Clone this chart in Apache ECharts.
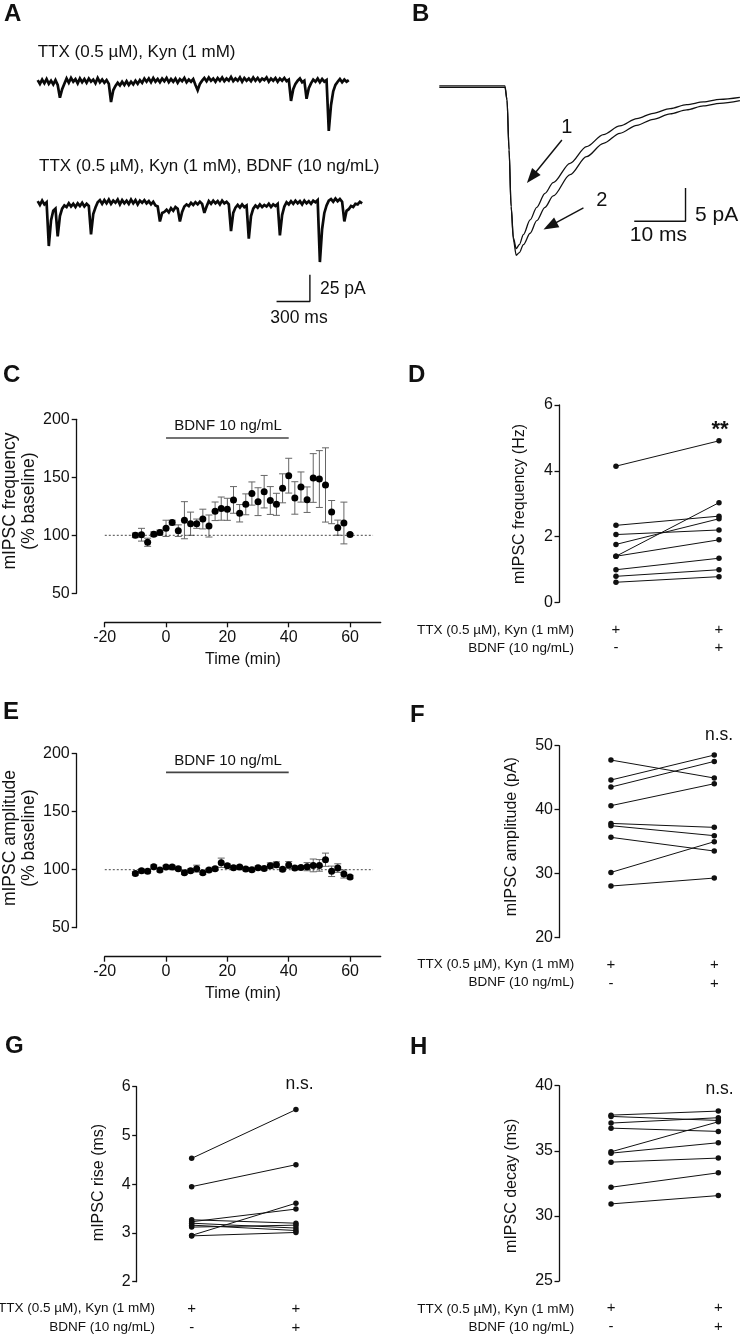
<!DOCTYPE html>
<html><head><meta charset="utf-8">
<script src="https://cdn.jsdelivr.net/npm/echarts@6/dist/echarts.min.js"></script>
<style>html,body{margin:0;padding:0;background:#fff}#c{width:742px;height:1335px}</style>
</head><body><div id="c"></div>
<script>
// ---------------- DATA ----------------
// Panel A: raw traces (pA), one value every SAMPLE_MS ms
const SAMPLE_MS = 20;
const traceCtrl = [
 1.5,-2,2,-1.5,2.5,-2,1,-2.5,1.5,-3,
 -15,-7,-2,3,-1,3.5,0,2.5,-1.5,3,
 -0.5,2.5,-1,3,0,2,-1.5,3.5,-0.5,2,
 -1,1.5,-2,-19,-8,-4,-1,-3.5,0,-3,
 0.5,-3,0,-2.5,1,-2,1.5,-1,3,0,
 3,-0.5,3.5,0,2.5,-0.5,3,0.5,3.5,-0.5,
 2.5,0,3,-1,2.5,0.5,3.5,-0.5,2,0,
 2.5,-3,-8,-2,1,3.5,0.5,4,1,3,
 0,3.5,1,4,0.5,3,1,4.5,0.5,3,
 1,4,0,3.5,1,3,0.5,4,1,3.5,
 0.5,3,1.5,4,0,3,1,3.5,0,3,
 1,3.5,0.5,2,-18,-7,-2,1,3,-0.5,
 1,-16,-6,-1.5,2,0,3,-0.5,2.5,0,
 1.5,-46,-22,-9,-3,0,2.5,-0.5,2,0,1.5
];
const traceBDNF = [
 2,-1.5,2.5,-1,1,-40,-16,-7,-5,-31,
 -12,-5,-2,-3.5,0,-3,-0.5,-3.5,0,-2.5,
 0.5,-3,-0.5,-2.5,-29,-10,-4,1,3,-0.5,
 3,0,3.5,-0.5,2.5,0.5,3.5,-1,3,0,
 2.5,-0.5,3.5,0,3,-1,2.5,0.5,3,0,
 2,-1,1.5,-2,-3,-17,-9,-8,-6,-8.5,
 -4.5,-7,-3.5,-5,-17,-8,-3,-1,-2.5,0.5,
 -1.5,1,-1,1.5,-0.5,-9,-3,2,-0.5,2.5,
 0,2,-1,2.5,0,1.5,-1,-26,-9,-4,
 -1.5,-4,-1,-3.5,-2,-33,-12,-5,-2,-4,
 -1,-3.5,-1.5,-3,-0.5,-3.5,-1,-2.5,-0.5,-30,
 -11,-3,1,-1,2,-0.5,2.5,0,2,-1,
 2.5,0,2,-0.5,2.5,1,3,-55,-24,-9,
 -2,2.5,4,1.5,4.5,2,4,1.5,-17,-7,
 -5.5,-2.5,-3.5,-0.5,-1,1.5,0
];
const scaleBarA = [[2150,-92],[2450,-92],[2450,-67]];   // 300 ms, 25 pA

// Panel B: averaged mIPSCs (ms, pA)
const avgTime = [0,12.8,13.2,13.6,14.0,14.45,15.0,15.6,16.4,17.7,19.0,20.6,22.2,25.5,28.7,32.0,35.2,38.5,41.7,45.0,48.2,51.5,54.7,58.6];
const avgCtrl = [0.1,0.1,-2,-9.5,-18,-22.7,-24.3,-23.7,-22.2,-20.0,-18.1,-16.0,-14.4,-11.5,-9.0,-7.2,-5.9,-4.8,-4.0,-3.3,-2.7,-2.3,-1.9,-1.6];
const avgBDNF = [-0.1,-0.1,-2,-9.5,-18,-23,-25.3,-24.9,-23.7,-22,-20.1,-18.1,-16.4,-13.2,-10.5,-8.5,-7.0,-5.8,-4.9,-4.1,-3.5,-2.9,-2.5,-2.1];
const scaleBarB = [[38,-20.2],[48,-20.2],[48,-15.2]];    // 10 ms, 5 pA
const arrowsB = [[[23.9,-8.0],[18.0,-13.6]],[[28.1,-18.2],[21.6,-20.9]]];

// Panels C & E: time course (min, % baseline, SEM)
const timeMin = [-10,-8,-6,-4,-2,0,2,4,6,8,10,12,14,16,18,20,22,24,26,28,30,32,34,36,38,40,42,44,46,48,50,52,54,56,58,60];
const freqMean = [100,100.5,94,101,102.5,106,111,104,113,110,110,114,108,120.7,123,122.4,130.5,119,126.7,136,129,137.6,130,126.7,140.5,151.4,132.2,141.6,130.7,149.4,148.5,143.4,120,106.6,110.6,100.6];
const freqSem  = [2,5.5,3.5,2,2,7,2,5,16,10,4,8.5,9.5,8,10,9.5,11.5,7.5,9,10,12,14,12,9.5,12.5,15,14,13,11,21,24.5,32,10,6.5,18,1];
const ampMean  = [96.8,99.1,98.6,102.6,99.7,102.3,102.3,100.9,97.4,99.1,100.9,97.4,99.7,100.9,106,103.4,101.7,102.3,100.6,100,101.7,101.1,103.4,104.3,100.3,104,101.4,102,102.6,103.7,103.7,108.6,98.6,101.4,96.3,93.7];
const ampSem   = [1.5,1.5,1.5,1.5,1.5,1.5,1.5,1.5,1.5,1.5,3,1.5,1.5,1.5,4,1.5,1.5,1.5,1.5,1.5,1.5,1.5,2.5,2.5,1.5,3,1.5,1.5,3.5,5.5,5,5.7,4.5,3.7,3.5,1.5];
const timeTicks = [-20,0,20,40,60];
const bdnfBar = [[0,183.9],[40,183.9]];
const baselineLine = [[-29.1,100],[67.5,100]];

// Panels D, F, G, H: paired cells (before, after BDNF)
const freqBefore  = [4.14,2.34,2.06,1.76,1.40,1.40,0.99,0.79,0.61];
const freqAfter   = [4.91,2.62,2.20,2.54,3.03,1.90,1.34,0.99,0.78];
const ampBefore   = [47.76,44.64,43.54,40.63,37.86,37.5,35.68,30.2,28.07];
const ampAfter    = [44.95,48.54,47.55,44.06,37.24,35.94,33.54,35.0,29.32];
const riseBefore  = [4.53,3.95,3.27,3.23,3.20,3.16,3.12,2.95,2.94];
const riseAfter   = [5.53,4.40,3.20,3.49,3.10,3.05,3.16,3.61,3.01];
const decayBefore = [37.74,37.64,37.13,36.74,34.92,34.82,34.13,32.2,30.92];
const decayAfter  = [38.05,37.33,37.54,36.49,37.23,35.62,34.44,33.31,31.56];
const condTTX  = ['+','+'];
const condBDNF = ['-','+'];
const rowTTX  = 'TTX (0.5 \u00b5M), Kyn (1 mM)';
const rowBDNF = 'BDNF (10 ng/mL)';

// ---------------- CHART ----------------
const FONT = '"Liberation Sans", Arial, Helvetica, sans-serif';
const INK = '#111';
const chart = echarts.init(document.getElementById('c'), null, {renderer:'canvas'});

const grids = [
 {left:37.7, top:65.7, width:333.3, height:80.1},     // 0 A1
 {left:37.7, top:187.3, width:333.3, height:122.8},   // 1 A2
 {left:439.3, top:53.3, width:300.6, height:233.3},   // 2 B
 {left:104.7, top:419.3, width:276, height:174},      // 3 C
 {left:559, top:405, width:180.6, height:197.3},      // 4 D
 {left:104.7, top:753.7, width:276, height:174},      // 5 E
 {left:559, top:745.7, width:178, height:192},        // 6 F
 {left:136.7, top:1086.7, width:180.1, height:195},   // 7 G
 {left:559, top:1085.7, width:180.8, height:195.3}    // 8 H
].map(g => Object.assign({containLabel:false, outerBoundsMode:'none'}, g));

const axLine = {show:true, onZero:false, lineStyle:{color:INK, width:1.3}};
function hid(grid, min, max){ return {type:'value', gridIndex:grid, min, max, show:false}; }
function timeX(grid){ return {type:'value', gridIndex:grid, min:-20, max:70, offset:29,
  axisLine:axLine, axisTick:{show:true, length:5, customValues:timeTicks, lineStyle:{color:INK,width:1.3}},
  axisLabel:{customValues:timeTicks, color:INK, fontSize:16, fontFamily:FONT, margin:7}, splitLine:{show:false}}; }
function pctY(grid){ return {type:'value', gridIndex:grid, min:50, max:200, interval:50, offset:28,
  axisLine:axLine, axisTick:{show:true, length:5, lineStyle:{color:INK,width:1.3}},
  axisLabel:{color:INK, fontSize:16, fontFamily:FONT, margin:7}, splitLine:{show:false}}; }
function pairX(grid, min, max){ return {type:'value', gridIndex:grid, min, max,
  axisLine:{show:false}, axisTick:{show:false}, splitLine:{show:false},
  axisLabel:{customValues:[0,1], formatter:v => condTTX[v] + '\n' + condBDNF[v], color:INK,
    fontSize:15, lineHeight:18.5, margin:18, fontFamily:FONT}}; }
function pairY(grid, min, max, interval){ return {type:'value', gridIndex:grid, min, max, interval,
  axisLine:axLine, axisTick:{show:true, length:4.5, lineStyle:{color:INK,width:1.3}},
  axisLabel:{color:INK, fontSize:16, fontFamily:FONT, margin:6}, splitLine:{show:false}}; }

const xAxes = [hid(0,0,3000), hid(1,0,3000), hid(2,0,58.6), timeX(3), pairX(4,-0.553,1.2), timeX(5),
  pairX(6,-0.503,1.22), pairX(7,-0.527,1.2), pairX(8,-0.485,1.2)];
const yAxes = [hid(0,-60,15), hid(1,-100,15), hid(2,-30,5), pctY(3), pairY(4,0,6,2), pctY(5),
  pairY(6,20,50,10), pairY(7,2,6,1), pairY(8,25,40,5)];

const series = [];
function plainLine(idx, data, width, color, extra){
  series.push(Object.assign({type:'line', xAxisIndex:idx, yAxisIndex:idx, data, symbol:'none', showSymbol:false,
    lineStyle:{color:color||INK, width}, silent:true}, extra||{}));
}
plainLine(0, traceCtrl.map((v,i)=>[i*SAMPLE_MS, v]), 2.7, '#0a0a0a', {lineStyle:{color:'#0a0a0a', width:2.7, join:'miter', miterLimit:3}});
plainLine(1, traceBDNF.map((v,i)=>[i*SAMPLE_MS, v]), 2.7, '#0a0a0a', {lineStyle:{color:'#0a0a0a', width:2.7, join:'miter', miterLimit:3}});
plainLine(1, scaleBarA, 1.4);
plainLine(2, avgTime.map((t,i)=>[t, avgCtrl[i]]), 1.3, INK, {smooth:0.3, smoothMonotone:'x'});
plainLine(2, avgTime.map((t,i)=>[t, avgBDNF[i]]), 1.3, INK, {smooth:0.3, smoothMonotone:'x'});
plainLine(2, scaleBarB, 1.4, INK, {markLine:{silent:true, symbol:['none','triangle'], symbolSize:[11,15],
  label:{show:false}, lineStyle:{color:INK, width:1.4, type:'solid'},
  data: arrowsB.map(a => [{coord:a[0]}, {coord:a[1]}])}});

function errRender(params, api){
  const x = api.value(0), m = api.value(1), e = api.value(2);
  const top = api.coord([x, m+e]), bot = api.coord([x, m-e]);
  const hw = 3.5, st = {stroke:'#666', lineWidth:1};
  return {type:'group', children:[
    {type:'line', shape:{x1:top[0],y1:top[1],x2:bot[0],y2:bot[1]}, style:st},
    {type:'line', shape:{x1:top[0]-hw,y1:top[1],x2:top[0]+hw,y2:top[1]}, style:st},
    {type:'line', shape:{x1:bot[0]-hw,y1:bot[1],x2:bot[0]+hw,y2:bot[1]}, style:st}
  ]};
}
function timeCourse(idx, mean, sem){
  plainLine(idx, baselineLine, 0.9, '#333', {clip:false, lineStyle:{color:'#333', width:0.9, type:[2,2]}});
  plainLine(idx, bdnfBar, 1.6, '#444');
  series.push({type:'custom', xAxisIndex:idx, yAxisIndex:idx, renderItem:errRender, silent:true,
    data: timeMin.map((t,i)=>[t, mean[i], sem[i]]), z:2});
  series.push({type:'scatter', xAxisIndex:idx, yAxisIndex:idx, symbolSize:7, silent:true,
    itemStyle:{color:'#000', opacity:1}, data: timeMin.map((t,i)=>[t, mean[i]]), z:3});
}
timeCourse(3, freqMean, freqSem);
timeCourse(5, ampMean, ampSem);

function pairs(idx, before, after){
  before.forEach((b,i) => series.push({type:'line', xAxisIndex:idx, yAxisIndex:idx,
    data:[[0,b],[1,after[i]]], symbol:'circle', symbolSize:5.5, showSymbol:true, silent:true,
    itemStyle:{color:INK, opacity:1}, lineStyle:{color:INK, width:1}}));
}
pairs(4, freqBefore, freqAfter);
pairs(6, ampBefore, ampAfter);
pairs(7, riseBefore, riseAfter);
pairs(8, decayBefore, decayAfter);

// ---------------- TEXT ----------------
function txt(text, x, y, size, o){
  o = o || {};
  return {type:'text', x, y, rotation:o.rot||0, z:10, silent:true,
    style:{text, fontSize:size, fontFamily:FONT, fontWeight:o.bold?'bold':'normal', fill:INK,
      align:o.align||'center', verticalAlign:'middle', lineHeight:o.lh}};
}
const V = Math.PI/2;
const texts = [
  txt('A', 4, 14, 24, {bold:true, align:'left'}),
  txt('B', 412, 14, 24, {bold:true, align:'left'}),
  txt('C', 3, 375, 24, {bold:true, align:'left'}),
  txt('D', 408, 375, 24, {bold:true, align:'left'}),
  txt('E', 3, 712, 24, {bold:true, align:'left'}),
  txt('F', 410, 715, 24, {bold:true, align:'left'}),
  txt('G', 5, 1046, 24, {bold:true, align:'left'}),
  txt('H', 410, 1047, 24, {bold:true, align:'left'}),
  txt(rowTTX, 37.7, 52, 17, {align:'left'}),
  txt(rowTTX + ', BDNF (10 ng/mL)', 39, 166, 17, {align:'left'}),
  txt('25 pA', 320, 289.5, 17.5, {align:'left'}),
  txt('300 ms', 299, 318, 17.5),
  txt('1', 566.7, 127, 20),
  txt('2', 601.7, 200, 20),
  txt('5 pA', 695, 215, 21, {align:'left'}),
  txt('10 ms', 658.3, 235, 21),
  // C
  txt('BDNF 10 ng/mL', 228, 426, 15),
  txt('mIPSC frequency\n(% baseline)', 19.5, 501, 17.5, {rot:V, lh:19}),
  txt('Time (min)', 243, 660, 16),
  // E
  txt('BDNF 10 ng/mL', 228, 760.5, 15),
  txt('mIPSC amplitude\n(% baseline)', 19.5, 838, 17.5, {rot:V, lh:19}),
  txt('Time (min)', 243, 994, 16),
  // D
  txt('mIPSC frequency (Hz)', 520, 504, 16, {rot:V}),
  txt('**', 720, 430, 22, {bold:true}),
  txt(rowTTX, 574, 630, 13.5, {align:'right'}),
  txt(rowBDNF, 574, 648.3, 13.5, {align:'right'}),
  // F
  txt('mIPSC amplitude (pA)', 512, 836.7, 16, {rot:V}),
  txt('n.s.', 719, 735, 17.5),
  txt(rowTTX, 574.3, 964, 13.5, {align:'right'}),
  txt(rowBDNF, 574.3, 982.7, 13.5, {align:'right'}),
  // G
  txt('mIPSC rise (ms)', 98.5, 1182.5, 16, {rot:V}),
  txt('n.s.', 299.5, 1084, 17.5),
  txt(rowTTX, 155, 1308.3, 13.5, {align:'right'}),
  txt(rowBDNF, 155, 1327.7, 13.5, {align:'right'}),
  // H
  txt('mIPSC decay (ms)', 511.7, 1185.8, 16, {rot:V}),
  txt('n.s.', 719.5, 1089, 17.5),
  txt(rowTTX, 574.3, 1309, 13.5, {align:'right'}),
  txt(rowBDNF, 574.3, 1327.7, 13.5, {align:'right'})
];

chart.setOption({
  animation:false,
  backgroundColor:'#fff',
  textStyle:{fontFamily:FONT},
  grid:grids, xAxis:xAxes, yAxis:yAxes, series,
  graphic:{elements:texts}
});
</script></body></html>
